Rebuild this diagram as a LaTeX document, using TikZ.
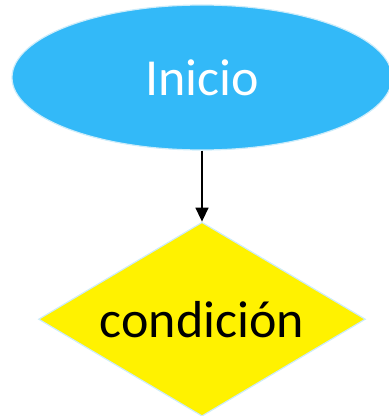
\documentclass[tikz,border=0pt]{standalone}
\usepackage{fontspec}
\setmainfont{Carlito}
\usepackage{tikz}
\usetikzlibrary{positioning,arrows.meta,shapes.geometric}
\usepackage{xcolor}
\definecolor{iniblue}{RGB}{51,185,248}
\definecolor{glow}{RGB}{205,236,250}

\begin{document}
\begin{tikzpicture}[x=1pt,y=1pt,>={Triangle[length=14pt,width=13pt]},
  startbox/.style={ellipse,fill=iniblue,draw=glow,line width=1.2pt,text=white,
    minimum width=380pt,minimum height=145pt,inner sep=0pt},
  condbox/.style={diamond,aspect=1.69,fill=yellow,draw=glow,line width=1.2pt,
    minimum width=327pt,minimum height=194pt,inner sep=0pt},
  font=\fontsize{52}{60}\selectfont]
\useasboundingbox (0,0) rectangle (389,416);
\node[startbox] (inicio) at (202,338.5) {Inicio};
\node[condbox] (cond) [below=71pt of inicio] {condición};
\draw[->,line width=1.5pt] (inicio) -- (cond);
\end{tikzpicture}
\end{document}
